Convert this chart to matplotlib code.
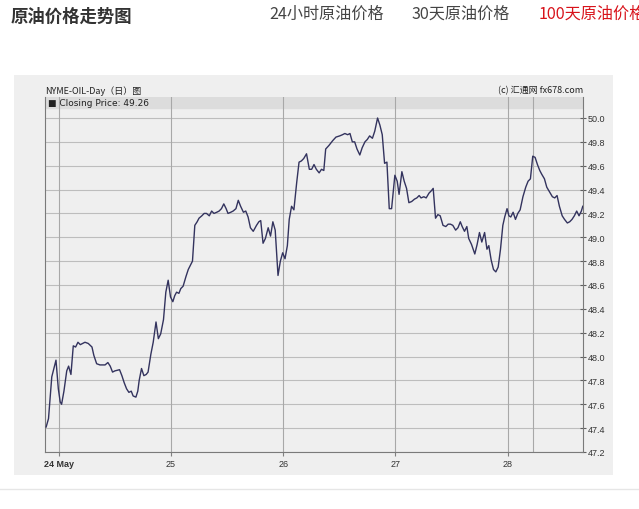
import matplotlib.pyplot as plt
import matplotlib.patches as patches

# hours since 24 May 00:00 and closing price
hours = [-2.7, -2.2, -1.5, -0.6, -0.1, 0.3, 0.6, 1.1, 1.7, 2.1, 2.6, 3.1, 3.6, 4.1, 4.6,
         5.1, 5.6, 6.3, 7.1, 7.5, 8.1, 8.8, 9.9, 10.5, 11.0, 11.5, 12.0, 13.0, 13.5, 14.0,
         14.5, 15.0, 15.5, 15.9, 16.5, 16.9, 17.2, 17.7, 18.2, 18.7, 19.1, 19.7, 20.2, 20.8,
         21.3, 21.8, 22.4, 22.9, 23.4, 23.9, 24.4, 24.8, 25.2, 25.7, 26.1, 26.6, 27.2, 27.7,
         28.2, 28.6, 29.1, 29.6, 30.0, 30.6, 31.1, 31.6, 32.2, 32.7, 33.2, 33.8, 34.3, 34.8,
         35.3, 35.8, 36.2, 36.8, 37.3, 37.9, 38.4, 38.9, 39.5, 40.0, 40.5, 41.0, 41.6, 42.3,
         42.8, 43.2, 43.7, 44.2, 44.8, 45.3, 45.8, 46.3, 46.9, 47.4, 47.9, 48.4, 48.9, 49.3,
         49.8, 50.3, 50.9, 51.4, 51.9, 52.4, 53.0, 53.6, 54.1, 54.6, 55.1, 55.7, 56.2, 56.7,
         57.1, 57.8, 58.6, 59.3, 60.1, 60.7, 61.2, 61.8, 62.3, 62.8, 63.3, 63.8, 64.4, 64.9,
         65.5, 66.0, 66.5, 67.1, 67.6, 68.2, 68.7, 69.2, 69.7, 70.2, 70.7, 71.2, 71.9, 72.4,
         72.8, 73.4, 73.9, 74.4, 74.9, 75.5, 76.1, 76.6, 77.1, 77.5, 78.1, 78.6, 79.2, 79.7,
         80.1, 80.6, 81.1, 81.6, 82.2, 82.8, 83.3, 83.8, 84.3, 84.9, 85.4, 85.9, 86.3, 86.8,
         87.3, 87.7, 88.3, 89.0, 89.5, 90.0, 90.5, 91.1, 91.6, 92.0, 92.5, 93.0, 93.5, 94.0,
         94.5, 95.0, 95.4, 95.9, 96.3, 96.7, 97.2, 97.7, 98.2, 98.7, 99.3, 99.9, 100.4, 100.9,
         101.4, 101.9, 102.4, 102.9, 103.3, 103.9, 104.4, 105.0, 105.6, 106.1, 106.6, 107.1,
         107.7, 108.2, 108.8, 109.3, 109.8, 110.3, 110.8, 111.3, 111.8, 112.1]
prices = [47.41, 47.48, 47.83, 47.97, 47.73, 47.62, 47.60, 47.71, 47.88, 47.92, 47.85, 48.09,
          48.08, 48.12, 48.10, 48.11, 48.12, 48.11, 48.08, 48.01, 47.94, 47.93, 47.93, 47.95,
          47.92, 47.87, 47.88, 47.89, 47.84, 47.78, 47.73, 47.70, 47.71, 47.67, 47.66, 47.71,
          47.80, 47.90, 47.84, 47.85, 47.87, 48.02, 48.12, 48.29, 48.15, 48.19, 48.31, 48.54,
          48.64, 48.50, 48.46, 48.51, 48.54, 48.53, 48.57, 48.59, 48.67, 48.73, 48.77, 48.80,
          49.10, 49.13, 49.16, 49.18, 49.20, 49.20, 49.18, 49.22, 49.20, 49.21, 49.22, 49.24,
          49.28, 49.24, 49.20, 49.21, 49.22, 49.24, 49.31, 49.26, 49.21, 49.22, 49.17, 49.08,
          49.05, 49.10, 49.13, 49.14, 48.95, 48.99, 49.08, 49.01, 49.13, 49.06, 48.68, 48.80,
          48.87, 48.82, 48.93, 49.15, 49.26, 49.23, 49.46, 49.63, 49.64, 49.66, 49.70, 49.57,
          49.57, 49.61, 49.57, 49.54, 49.57, 49.56, 49.74, 49.77, 49.81, 49.84, 49.85, 49.86,
          49.87, 49.86, 49.87, 49.80, 49.80, 49.74, 49.69, 49.75, 49.80, 49.82, 49.85, 49.83,
          49.89, 50.00, 49.94, 49.86, 49.62, 49.63, 49.24, 49.24, 49.52, 49.47, 49.36, 49.55,
          49.47, 49.41, 49.29, 49.30, 49.32, 49.33, 49.35, 49.33, 49.34, 49.33, 49.37, 49.39,
          49.41, 49.16, 49.19, 49.18, 49.10, 49.09, 49.11, 49.11, 49.10, 49.06, 49.08, 49.13,
          49.09, 49.05, 49.09, 48.99, 48.94, 48.86, 48.94, 49.04, 48.96, 49.04, 48.90, 48.93,
          48.81, 48.73, 48.71, 48.75, 48.90, 49.10, 49.17, 49.24, 49.18, 49.17, 49.21, 49.15,
          49.20, 49.23, 49.34, 49.42, 49.47, 49.49, 49.68, 49.67, 49.61, 49.56, 49.53, 49.49,
          49.42, 49.38, 49.34, 49.33, 49.35, 49.26, 49.18, 49.15, 49.12, 49.13, 49.15, 49.18,
          49.22, 49.18, 49.22, 49.26]

day_ticks = [0, 24, 48, 72, 96]
day_labels = ['24 May', '25', '26', '27', '28']
extra_line = 101.4
y_ticks = [47.2, 47.4, 47.6, 47.8, 48.0, 48.2, 48.4, 48.6, 48.8, 49.0, 49.2, 49.4, 49.6, 49.8, 50.0]
last_price = 49.26

tabs = ['24小时原油价格', '30天原油价格', '100天原油价格']
tab_x = [269, 412, 539]
tab_colors = ['#444444', '#444444', '#d8131b']

cjk = ['Noto Sans CJK SC', 'DejaVu Sans']
W, H = 639, 510

fig = plt.figure(figsize=(W / 100, H / 100), dpi=100)
fig.patch.set_facecolor('white')

# header
fig.text(11 / W, 1 - 17 / H, '原油价格走势图', family=cjk, fontsize=12.5,
         fontweight='bold', color='#333333', va='center', ha='left')
for t, x, c in zip(tabs, tab_x, tab_colors):
    fig.text(x / W, 1 - 14 / H, t, family=cjk, fontsize=11.6, color=c, va='center', ha='left')

# grey panel and separator
fig.patches.append(patches.Rectangle((14 / W, 1 - 476 / H), (613 - 14) / W, (476 - 76) / H,
                                     transform=fig.transFigure, facecolor='#efefef',
                                     edgecolor='none', zorder=-5))
fig.lines.append(plt.Line2D([0, 1], [1 - 490 / H, 1 - 490 / H], transform=fig.transFigure,
                            color='#e6e6e6', lw=1, zorder=-5))

ax = fig.add_axes([45 / W, 1 - 453 / H, (583 - 45) / W, (453 - 98) / H])
ax.set_zorder(1)
ax.set_facecolor('#efefef')

top = 50.0 + 21 * 2.8 / 334
ax.set_ylim(47.2, top)
ax.set_xlim(-2.95, 112.15)

ax.axhspan(top - 11 * 2.8 / 334, top, color='#dcdcdc', zorder=0)

for y in y_ticks:
    ax.axhline(y, color='#bdbdbd', lw=0.8, zorder=1)
for d in day_ticks + [extra_line]:
    ax.axvline(d, color='#a8a8a8', lw=0.8, zorder=1)

ax.plot(hours, prices, color='#33335e', lw=1.0, zorder=3)

ax.set_xticks(day_ticks)
ax.set_xticklabels(day_labels, family='Liberation Sans', fontsize=6.5, color='#333333')
ax.get_xticklabels()[0].set_fontweight('bold')
ax.tick_params(axis='x', direction='out', length=3, color='#808080', pad=2)

ax.yaxis.tick_right()
ax.set_yticks(y_ticks)
ax.set_yticklabels(['%.1f' % v for v in y_ticks], family='Liberation Sans', fontsize=6.5,
                   color='#333333')
ax.tick_params(axis='y', direction='inout', length=5, color='#606060', pad=1)

for side in ['left', 'bottom', 'right']:
    ax.spines[side].set_color('#7a7a7a')
    ax.spines[side].set_linewidth(0.8)
ax.spines['top'].set_visible(False)

ax.text(0.005, top - 5.5 * 2.8 / 334, '■ Closing Price: %.2f' % last_price,
        transform=ax.get_yaxis_transform(), family=['DejaVu Sans'], fontsize=6.5,
        color='#222222', va='center', ha='left')

fig.text(45 / W, 1 - 91 / H, 'NYME-OIL-Day（日）图', family=cjk, fontsize=6.5,
         color='#222222', va='center', ha='left')
fig.text(583 / W, 1 - 91 / H, '(c) 汇通网 fx678.com', family=cjk, fontsize=6.5,
         color='#222222', va='center', ha='right')

fig.savefig('out.png', dpi=100)
